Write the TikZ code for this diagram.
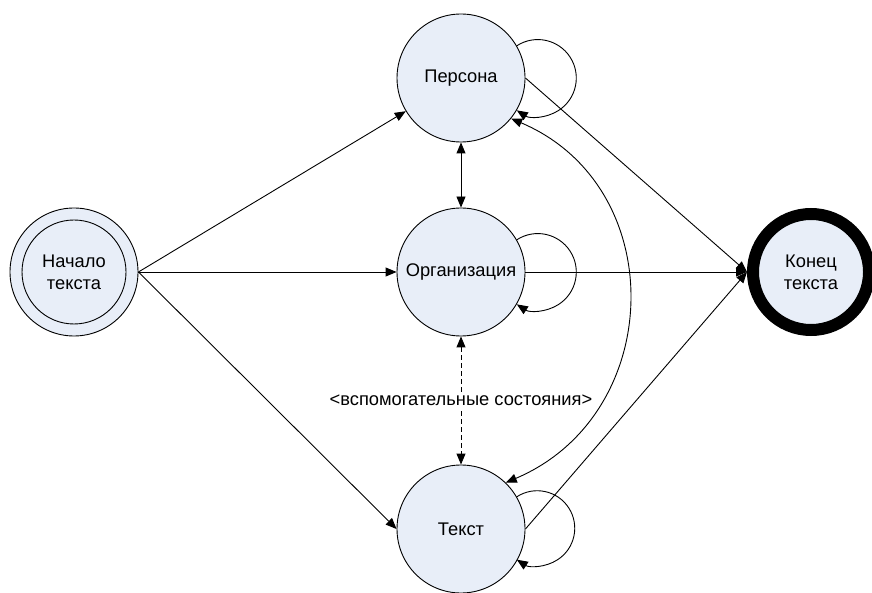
\documentclass[tikz,border=0pt]{standalone}
\usepackage{fontspec}
\setmainfont{Liberation Sans}
\usetikzlibrary{arrows.meta}
\definecolor{nodefill}{RGB}{232,238,248}
\begin{document}
\begin{tikzpicture}[x=1pt,y=1pt,
  state/.style={circle, draw, line width=0.9pt, fill=nodefill, minimum size=128pt, inner sep=0pt, align=center, font=\fontsize{18.3}{22}\selectfont},
  conn/.style={line width=0.9pt, -{Triangle[length=11pt,width=9pt]}},
  biconn/.style={line width=0.9pt, {Triangle[length=11pt,width=9pt]}-{Triangle[length=11pt,width=9pt]}},
  lbl/.style={fill=white, inner sep=2pt, font=\fontsize{18.3}{22}\selectfont}
]
\useasboundingbox (0,0) rectangle (872,592);

\node[state] (S) at (74,320) {};
\node[state, fill=none, minimum size=104pt] (Si) at (74,320) {Начало\\текста};
\node[state] (P) at (461,514) {Персона};
\node[state] (O) at (461,320) {Организация};
\node[state] (T) at (461,63) {Текст};
\node[state, line width=12pt, minimum size=116pt] (K) at (811,320) {Конец\\текста};

% from start
\draw[conn] (S.east) -- (P);
\draw[conn] (S.east) -- (O.west);
\draw[conn] (S.east) -- (T.west);

% to end
\draw[conn] (P.east) -- (K.west);
\draw[conn] (O.east) -- (K.west);
\draw[conn] (T.east) -- (K.west);

% vertical links
\draw[biconn] (P.south) -- (O.north);
\draw[biconn, dash pattern=on 5pt off 3pt] (O.south) -- node[lbl] (L) {<вспомогательные состояния>} (T.north);

% curved link
\draw[biconn] (P.-39.5) to[out=-23, in=23, looseness=1.22] (T.46);

% self loops
\draw[conn] (P.30) arc[start angle=123, end angle=-123, radius=38.5];
\draw[conn] (O.30) arc[start angle=123, end angle=-123, radius=38.5];
\draw[conn] (T.30) arc[start angle=123, end angle=-123, radius=37.5];
\end{tikzpicture}
\end{document}
